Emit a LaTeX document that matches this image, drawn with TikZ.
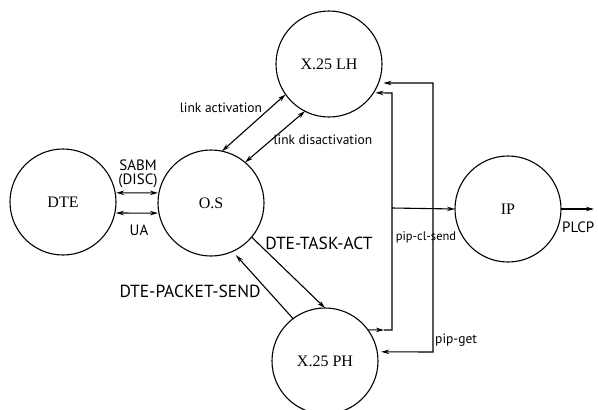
\documentclass[tikz,border=0pt]{standalone}
\usepackage{fontspec}
\setmainfont{Liberation Serif}
\newfontfamily\lblfont{PT Sans}
\usetikzlibrary{arrows.meta}
\begin{document}
\begin{tikzpicture}[x=1pt,y=-1pt,
  state/.style={circle, draw, line width=1.1pt, inner sep=0pt, outer sep=0pt, minimum size=106pt, font=\fontsize{16}{18}\selectfont},
  conn/.style={line width=1.1pt},
  arr/.style={conn, -{Stealth[length=8pt,width=4.5pt]}},
  darr/.style={conn, {Stealth[length=8pt,width=4.5pt]}-{Stealth[length=8pt,width=4.5pt]}},
  lbl/.style={font=\lblfont\fontsize{13.5}{15}\selectfont, inner sep=0pt},
  caplbl/.style={font=\lblfont\fontsize{17.5}{19}\selectfont, inner sep=0pt},
  smlbl/.style={font=\lblfont\fontsize{15}{14.5}\selectfont, inner sep=0pt, align=center}]
\useasboundingbox (0,0) rectangle (598,410);
\fill[white] (0,0) rectangle (598,410);
% states
\node[state] (DTE) at (63,202) {DTE};
\node[state] (OS) at (211,203) {O.S};
\node[state] (LH) at (329,64) {X.25 LH};
\node[state] (IP) at (508,209) {IP};
\node[state] (PH) at (325,361) {X.25 PH};
% DTE <-> O.S
\draw[darr, shorten <=1pt, shorten >=1pt] (DTE.10) -- (OS.169);
\draw[darr, shorten <=1pt, shorten >=1pt] (DTE.-12) -- (OS.191);
\node[smlbl] (sabm) at (138,174) {SABM\\(DISC)};
\node[smlbl] (ua) at (139,230) {UA};
% O.S <-> X.25 LH
\draw[darr] (OS.78) -- (LH.215);
\draw[darr] (OS.50) -- (LH.243);
\node[lbl] (lact) at (221,108) {link activation};
\node[lbl] (ldis) at (323,140) {link disactivation};
% O.S <-> X.25 PH
\draw[arr] (OS.-40) -- (PH.90);
\draw[arr, shorten >=5pt] (PH.127) -- (OS.-66);
\node[caplbl] (task) at (319,243) {DTE-TASK-ACT};
\node[caplbl] (pack) at (190,291) {DTE-PACKET-SEND};
% X.25 PH -> IP and X.25 LH
\coordinate (a1) at (384,330);
\coordinate (jA) at (392,330);
\coordinate (jB) at (392,93);
\coordinate (jC) at (392,208);
\draw[arr] (PH.36) -- (a1);
\draw[arr, shorten >=2pt] (a1) -- (jA) -- (jB) -- (LH.-33);
\draw[arr] (jC) -- (IP.west);
\node[lbl, font=\lblfont\fontsize{12.5}{14}\selectfont] (pcs) at (426,237) {pip-cl-send};
% pip-get
\coordinate (jD) at (433,83);
\coordinate (jE) at (433,352);
\draw[darr, shorten <=5pt, shorten >=4pt] (LH.-21) -- (jD) -- (jE) -- (PH.10);
\node[lbl, anchor=west] (pg) at (435,340) {pip-get};
% IP -> PLCP
\coordinate (out) at (594,209);
\draw[arr] (IP.east) -- (out);
\node[lbl, font=\lblfont\fontsize{15}{17}\selectfont, anchor=west] (plcp) at (562,227) {PLCP};
\end{tikzpicture}
\end{document}
